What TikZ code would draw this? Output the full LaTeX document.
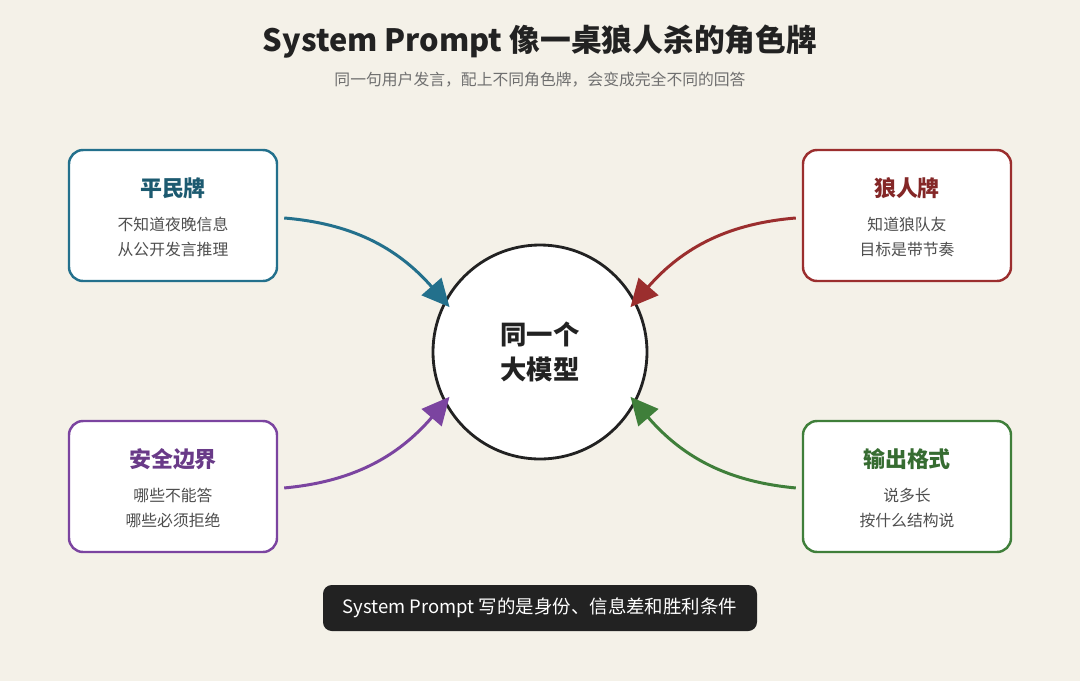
\documentclass[tikz,border=0pt]{standalone}
\usepackage{fontspec}
\setmainfont{Noto Sans CJK SC}
\usetikzlibrary{arrows.meta,positioning}
\definecolor{bg}{HTML}{F4F1E8}
\definecolor{cteal}{HTML}{23708C}
\definecolor{cred}{HTML}{9B2E2E}
\definecolor{cpurple}{HTML}{7B44A0}
\definecolor{cgreen}{HTML}{3F7F3A}
\definecolor{ink}{HTML}{222222}
\begin{document}
\begin{tikzpicture}[x=0.02cm, y=-0.02cm]
    \tikzset{
        card/.style     =   { rectangle
                            , rounded corners=8pt
                            , fill=white
                            , line width=1.4pt
                            , minimum width=208*0.02cm
                            , minimum height=131*0.02cm
        }
        , head/.style   =   { font=\fontsize{12.5}{15}\selectfont\bfseries
        }
        , body/.style   =   { font=\fontsize{9}{14}\selectfont
                            , text=ink!80
                            , align=center
        }
        , arrow/.style  =   { line width=1.7pt
                            , -{Triangle[length=0.55cm, width=0.52cm]}
                            , shorten <= 6*0.02cm
                            , shorten >= -8*0.02cm
        }
    }
    \fill[bg] (0,0) rectangle (1080,681);
    \node[font=\fontsize{17.5}{20}\selectfont\bfseries, text=ink] (title) at (540,42) {System Prompt 像一桌狼人杀的角色牌};
    \node[font=\fontsize{9}{10}\selectfont, text=ink!65] (sub) at (540,80) {同一句用户发言，配上不同角色牌，会变成完全不同的回答};

    \node(mid)[circle, draw=ink, line width=1.6pt, fill=white, minimum size=214*0.02cm,
        font=\fontsize{15}{20}\selectfont\bfseries, align=center, text=ink] at (540,352) {同一个\\大模型};

    \node(pm)[card, draw=cteal]   at (173,215.5) {};
    \node(lr)[card, draw=cred]    at (907,215.5) {};
    \node(aq)[card, draw=cpurple] at (173,486.5) {};
    \node(sc)[card, draw=cgreen]  at (907,486.5) {};

    \node[head, text=cteal!80!black]   at (173,188) {平民牌};
    \node[body] at (173,237) {不知道夜晚信息\\从公开发言推理};
    \node[head, text=cred!85!black]    at (907,188) {狼人牌};
    \node[body] at (907,237) {知道狼队友\\目标是带节奏};
    \node[head, text=cpurple!85!black] at (173,459) {安全边界};
    \node[body] at (173,508) {哪些不能答\\哪些必须拒绝};
    \node[head, text=cgreen!85!black]  at (907,459) {输出格式};
    \node[body] at (907,508) {说多长\\按什么结构说};

    \node(note)[rectangle, rounded corners=5pt, fill=ink, text=white, minimum width=434*0.02cm,
        minimum height=46*0.02cm, font=\fontsize{10.5}{12}\selectfont] at (540,608) {System Prompt 写的是身份、信息差和胜利条件};

    \draw[arrow, cteal]   ([yshift=-2*0.02cm]pm.east) to[bend left=22]  (mid.152);
    \draw[arrow, cred]    ([yshift=-2*0.02cm]lr.west) to[bend right=22] (mid.28);
    \draw[arrow, cpurple] ([yshift=-2*0.02cm]aq.east) to[bend right=22] (mid.208);
    \draw[arrow, cgreen]  ([yshift=-2*0.02cm]sc.west) to[bend left=22]  (mid.332);
\end{tikzpicture}
\end{document}
